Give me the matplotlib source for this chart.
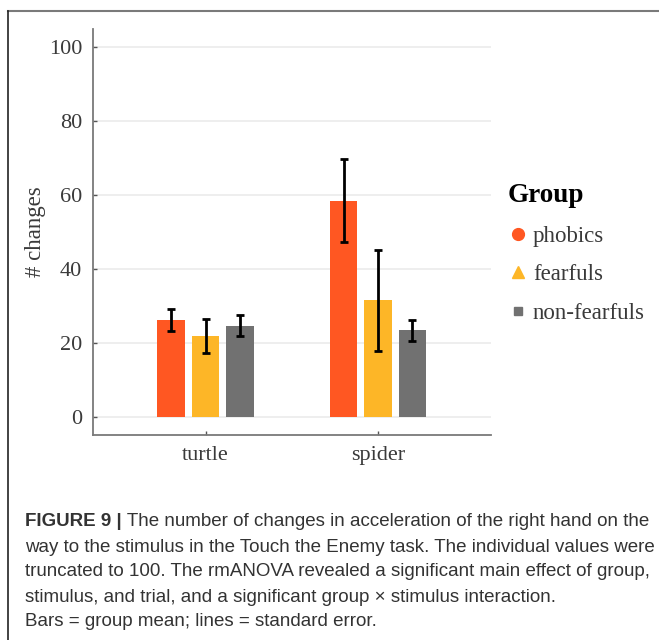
import numpy as np
import matplotlib.pyplot as plt
from matplotlib.lines import Line2D

# group means and standard errors per stimulus
stimuli = ['turtle', 'spider']
groups = ['phobics', 'fearfuls', 'non-fearfuls']
means = {
    'phobics': [26.1, 58.5],
    'fearfuls': [21.9, 31.5],
    'non-fearfuls': [24.6, 23.4],
}
errs = {
    'phobics': [3.0, 11.2],
    'fearfuls': [4.6, 13.7],
    'non-fearfuls': [2.9, 2.8],
}
colors = {'phobics': '#FF5722', 'fearfuls': '#FDB627', 'non-fearfuls': '#717171'}
markers = {'phobics': 'o', 'fearfuls': '^', 'non-fearfuls': 's'}
msizes = {'phobics': 8.5, 'fearfuls': 8.5, 'non-fearfuls': 5.5}

serif = ['Liberation Serif', 'DejaVu Serif']
txtcol = '#3a3a3a'

fig = plt.figure(figsize=(6.59, 6.4), dpi=100)
ax = fig.add_axes([0.1416, 0.3203, 0.603, 0.6344])

x = np.arange(1, len(stimuli) + 1)
step = 0.2
width = 0.16
for i, g in enumerate(groups):
    pos = x + (i - 1) * step
    ax.bar(pos, means[g], width=width, color=colors[g], zorder=2)
    ax.errorbar(pos, means[g], yerr=errs[g], fmt='none', ecolor='black',
                elinewidth=2, capsize=2.8, capthick=2, zorder=3)

ax.set_xlim(0.348, 2.654)
ax.set_ylim(-5, 105)
ax.set_xticks(x)
ax.set_xticklabels(stimuli)
ax.set_yticks(np.arange(0, 101, 20))
ax.grid(axis='y', color='#ebebeb', lw=1.2, zorder=0)
ax.set_axisbelow(True)
for s in ['top', 'right']:
    ax.spines[s].set_visible(False)
for s in ['left', 'bottom']:
    ax.spines[s].set_color('#7a7a7a')
    ax.spines[s].set_linewidth(1.3)
ax.tick_params(direction='in', length=3, color='#555555', width=1,
               labelsize=16, labelcolor=txtcol, pad=8)
for lab in ax.get_xticklabels() + ax.get_yticklabels():
    lab.set_family(serif)
ax.set_ylabel('# changes', family=serif, fontsize=16.5, color=txtcol, labelpad=2)

# legend
handles = [Line2D([], [], ls='none', marker=markers[g], color=colors[g],
                  markersize=msizes[g]) for g in groups]
leg = fig.legend(handles, groups, loc='upper left',
                 bbox_to_anchor=(487 / 659, 1 - 162 / 640),
                 frameon=False, handlelength=0.9, handletextpad=0.2,
                 labelspacing=0.78, alignment='left',
                 prop={'family': serif, 'size': 16.5})
leg.set_title('Group', prop={'family': serif, 'size': 19.5, 'weight': 'bold'})
for t in leg.get_texts():
    t.set_color(txtcol)

# frame lines around the figure panel
fig.add_artist(Line2D([8 / 659, 1], [1 - 11 / 640, 1 - 11 / 640],
                      transform=fig.transFigure, color='#7a7a7a', lw=1.5))
fig.add_artist(Line2D([8 / 659, 8 / 659], [0, 1 - 11 / 640],
                      transform=fig.transFigure, color='#222222', lw=1.2))

# caption
sans = ['Liberation Sans', 'DejaVu Sans']
capcol = '#333333'
capsize = 13.5
head = fig.text(25 / 659, 1 - 521 / 640, 'FIGURE 9 |', family=sans, weight='bold',
                fontsize=capsize, color=capcol, va='center')
ax.annotate(' The number of changes in acceleration of the right hand on the',
            xy=(1, 0.5), xycoords=head, va='center', ha='left',
            family=sans, fontsize=capsize, color=capcol)
lines = [
    'way to the stimulus in the Touch the Enemy task. The individual values were',
    'truncated to 100. The rmANOVA revealed a significant main effect of group,',
    'stimulus, and trial, and a significant group \u00d7 stimulus interaction.',
    'Bars = group mean; lines = standard error.',
]
ys = [547, 572, 597, 621]
for s, yy in zip(lines, ys):
    fig.text(25 / 659, 1 - yy / 640, s, family=sans, fontsize=capsize,
             color=capcol, va='center')

fig.savefig('out.png', dpi=100)
